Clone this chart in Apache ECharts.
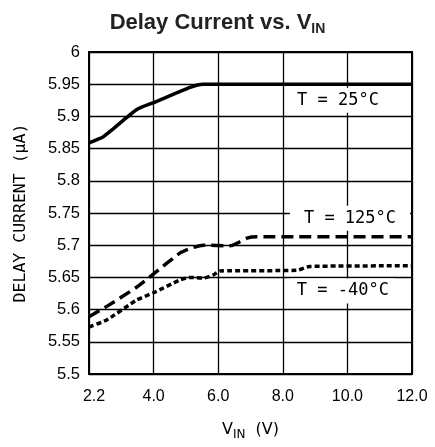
<!DOCTYPE html>
<html><head><meta charset="utf-8">
<script src="https://cdn.jsdelivr.net/npm/echarts@6/dist/echarts.min.js"></script>
<style>html,body{margin:0;padding:0;background:#fff}#c{width:435px;height:447px}</style>
</head><body><div id="c"></div>
<script>
// tick labels
const xTickValues = [2, 4, 6, 8, 10, 12];
const xTickLabels = ['2.2', '4.0', '6.0', '8.0', '10.0', '12.0'];
const yTickLabels = ['5.5', '5.55', '5.6', '5.65', '5.7', '5.75', '5.8', '5.85', '5.9', '5.95', '6'];

// T = 25°C
const x25 = [2.0, 2.43, 2.71, 3.49, 3.98, 5.13, 5.53, 12];
const y25 = [5.859, 5.868, 5.879, 5.911, 5.921, 5.945, 5.95, 5.95];
// T = 125°C
const x125 = [2.0, 2.55, 3.48, 3.99, 4.82, 5.13, 5.54, 6.37, 6.58, 6.89, 7.2, 12];
const y125 = [5.589, 5.605, 5.635, 5.655, 5.688, 5.695, 5.700, 5.699, 5.703, 5.711, 5.713, 5.713];
// T = -40°C
const x40 = [2.0, 2.55, 3.48, 3.99, 4.82, 5.13, 5.54, 5.85, 6.06, 8.43, 8.84, 12];
const y40 = [5.573, 5.584, 5.615, 5.626, 5.646, 5.650, 5.649, 5.654, 5.660, 5.661, 5.667, 5.668];

const annTexts = ['T = 25°C', 'T = 125°C', 'T = -40°C'];

const zip = (xs, ys) => xs.map((x, i) => [x, ys[i]]);

const chart = echarts.init(document.getElementById('c'));
const lineCommon = { type: 'line', symbol: 'none', smooth: 0.2, z: 3 };
chart.setOption({
  animation: false,
  backgroundColor: '#fff',
  title: {
    text: '{a|Delay Current vs. V}{s|IN}',
    left: 'center',
    top: 4,
    textStyle: {
      rich: {
        a: { fontFamily: 'Liberation Sans', fontWeight: 'bold', fontSize: 22, color: '#222', lineHeight: 27, verticalAlign: 'middle' },
        s: { fontFamily: 'Liberation Sans', fontWeight: 'bold', fontSize: 14, color: '#222', lineHeight: 14, verticalAlign: 'bottom' }
      }
    }
  },
  grid: { left: 89, right: 23, top: 52, bottom: 73, show: true, borderColor: '#000', borderWidth: 2, backgroundColor: 'transparent' },
  xAxis: {
    type: 'value', min: 2, max: 12, interval: 2,
    axisLine: { show: true, lineStyle: { color: '#000', width: 2 } },
    axisTick: { show: false },
    splitLine: { show: true, lineStyle: { color: '#000', width: 1.3 } },
    axisLabel: {
      color: '#000', fontFamily: 'Liberation Sans', fontSize: 16, margin: 15,
      formatter: v => {
        const i = xTickValues.indexOf(Math.round(v));
        return i === 0 ? '{f|' + xTickLabels[i] + '}' : xTickLabels[i];
      },
      rich: { f: { fontFamily: 'Liberation Sans', fontSize: 16, color: '#000', padding: [0, 0, 0, 10] } }
    },
    name: '{a|V}{s|IN}{a|  (V)}',
    nameLocation: 'middle', nameGap: 45,
    nameTextStyle: {
      rich: {
        a: { fontFamily: 'DejaVu Sans', fontSize: 16, color: '#000', lineHeight: 22, verticalAlign: 'middle' },
        s: { fontFamily: 'DejaVu Sans', fontSize: 12, color: '#000', lineHeight: 12, verticalAlign: 'bottom' }
      }
    }
  },
  yAxis: {
    type: 'value', min: 5.5, max: 6, interval: 0.05,
    axisLine: { show: true, lineStyle: { color: '#000', width: 2 } },
    axisTick: { show: false },
    splitLine: { show: true, lineStyle: { color: '#000', width: 1.3 } },
    axisLabel: {
      color: '#000', fontFamily: 'Liberation Sans', fontSize: 16.5, margin: 9,
      formatter: v => yTickLabels[Math.round((v - 5.5) / 0.05)]
    },
    name: 'DELAY CURRENT (μA)',
    nameLocation: 'middle', nameGap: 60, nameRotate: 90,
    nameTextStyle: { fontFamily: 'DejaVu Sans Mono', fontSize: 16.5, color: '#000' }
  },
  series: [
    Object.assign({}, lineCommon, { name: annTexts[0], data: zip(x25, y25), lineStyle: { color: '#000', width: 3.5, type: 'solid' } }),
    Object.assign({}, lineCommon, { name: annTexts[1], data: zip(x125, y125), lineStyle: { color: '#000', width: 3.5, type: [12, 6] } }),
    Object.assign({}, lineCommon, { name: annTexts[2], data: zip(x40, y40), lineStyle: { color: '#000', width: 3.5, type: [5, 3] } })
  ]
});

// annotation labels placed through the chart's own coordinate system
const annAnchors = [[9.71, 5.925], [10.08, 5.742], [9.86, 5.629]];
const annPad = [[4, 6], [4, 14], [4, 6]];
chart.setOption({
  graphic: annTexts.map((t, i) => {
    const p = chart.convertToPixel({ gridIndex: 0 }, annAnchors[i]);
    return {
      type: 'text', x: p[0], y: p[1], z: 10,
      style: {
        text: t, fill: '#000', font: '17px "DejaVu Sans Mono"',
        align: 'center', verticalAlign: 'middle',
        backgroundColor: '#fff', padding: annPad[i]
      }
    };
  })
});
</script>
</body></html>
